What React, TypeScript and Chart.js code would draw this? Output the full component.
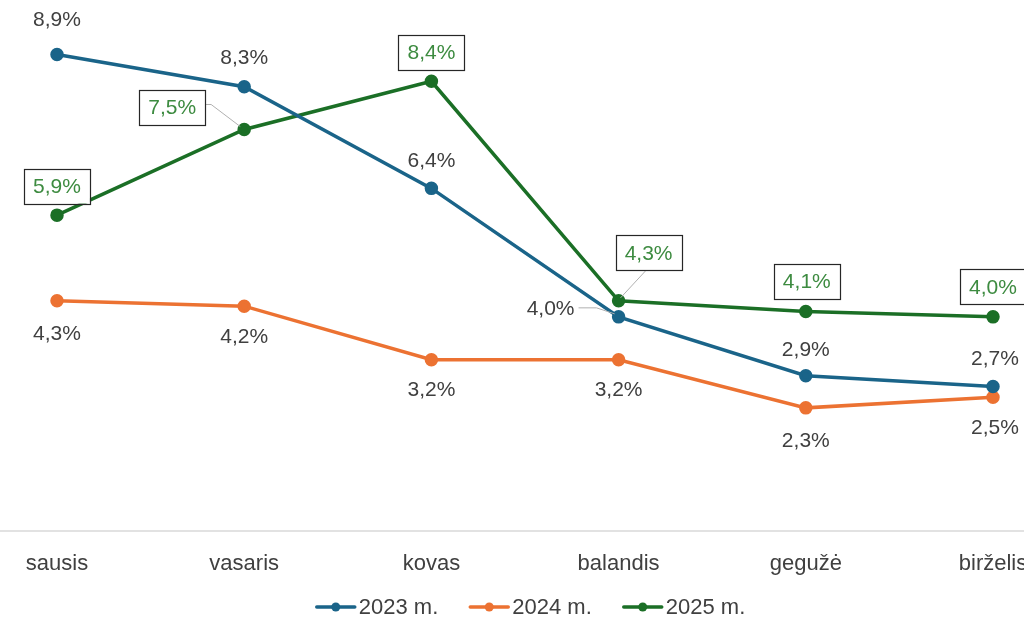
import React, { useEffect, useRef } from "react";
import { Chart, registerables } from "chart.js";

Chart.register(...registerables);

const months = ["sausis", "vasaris", "kovas", "balandis", "gegužė", "birželis"];
const values2023 = [8.9, 8.3, 6.4, 4.0, 2.9, 2.7];
const values2024 = [4.3, 4.2, 3.2, 3.2, 2.3, 2.5];
const values2025 = [5.9, 7.5, 8.4, 4.3, 4.1, 4.0];
const seriesNames = ["2023 m.", "2024 m.", "2025 m."];
const seriesColors = ["#1a6489", "#ec7232", "#1b6f26"];

// label placement (style only): offsets from point to label centre
const labelOffsets2023 = [[0, -35], [0, -29], [0, -28], [-68, -9], [0, -27], [2, -28]];
const labelOffsets2024 = [[0, 32], [0, 30], [0, 30], [0, 30], [0, 32], [2, 30]];
const labelOffsets2025 = [[0, -29], [-72, -22], [0, -29], [30, -48], [1, -30], [0, -30]];

const fmt = (v: number) => v.toFixed(1).replace(".", ",") + "%";

const LABEL_FONT = "21px 'Liberation Sans', Arial, sans-serif";
const AXIS_FONT = "22px 'Liberation Sans', Arial, sans-serif";

const labelPlugin = {
  id: "customLabels",
  beforeDatasetsDraw(chart: any) {
    const ctx = chart.ctx;
    const y0 = chart.scales.y.getPixelForValue(0);
    ctx.save();
    ctx.strokeStyle = "#d9d9d9";
    ctx.lineWidth = 1.5;
    ctx.beginPath();
    ctx.moveTo(0, y0);
    ctx.lineTo(chart.width, y0);
    ctx.stroke();
    ctx.restore();
  },
  afterDatasetsDraw(chart: any) {
    const ctx = chart.ctx;
    const offsets = [labelOffsets2023, labelOffsets2024, labelOffsets2025];
    ctx.save();
    ctx.font = LABEL_FONT;
    ctx.textAlign = "center";
    ctx.textBaseline = "middle";
    chart.data.datasets.forEach((ds: any, di: number) => {
      const meta = chart.getDatasetMeta(di);
      meta.data.forEach((pt: any, i: number) => {
        const [dx, dy] = offsets[di][i];
        const cx = pt.x + dx;
        const cy = pt.y + dy;
        const text = fmt(ds.data[i]);
        const w = ctx.measureText(text).width;
        if (di === 0 && i === 3) {
          ctx.strokeStyle = "#b0b0b0";
          ctx.lineWidth = 1;
          ctx.beginPath();
          ctx.moveTo(cx + w / 2 + 4, cy);
          ctx.lineTo(cx + w / 2 + 22, cy);
          ctx.lineTo(pt.x - 4, pt.y - 3);
          ctx.stroke();
        }
        if (di === 2 && i === 1) {
          ctx.strokeStyle = "#b0b0b0";
          ctx.lineWidth = 1;
          ctx.beginPath();
          ctx.moveTo(cx + w / 2 + 9, cy - 3);
          ctx.lineTo(cx + w / 2 + 15, cy - 3);
          ctx.lineTo(pt.x - 4, pt.y - 3);
          ctx.stroke();
        }
        if (di === 2 && i === 3) {
          ctx.strokeStyle = "#b0b0b0";
          ctx.lineWidth = 1;
          ctx.beginPath();
          ctx.moveTo(cx - 3, cy + 18);
          ctx.lineTo(pt.x + 2, pt.y - 3);
          ctx.stroke();
        }
        if (di === 2) {
          const bw = w + 18;
          const bh = 35;
          ctx.fillStyle = "#ffffff";
          ctx.fillRect(cx - bw / 2, cy - bh / 2, bw, bh);
          ctx.strokeStyle = "#262626";
          ctx.lineWidth = 1.2;
          ctx.strokeRect(Math.round(cx - bw / 2) + 0.5, Math.round(cy - bh / 2) + 0.5, Math.round(bw), bh);
          ctx.fillStyle = "#3d8b40";
        } else {
          ctx.fillStyle = "#404040";
        }
        ctx.fillText(text, cx, cy + 1);
      });
    });
    ctx.restore();
  },
  afterDraw(chart: any) {
    const ctx = chart.ctx;
    ctx.save();
    ctx.font = AXIS_FONT;
    ctx.textBaseline = "middle";
    ctx.textAlign = "left";
    const lineLen = 38;
    const gap = 4;
    const itemGap = 32;
    const widths = seriesNames.map((n) => lineLen + gap + ctx.measureText(n).width);
    const total = widths.reduce((a, b) => a + b, 0) + itemGap * (seriesNames.length - 1);
    let x = 531 - total / 2;
    const y = 607;
    seriesNames.forEach((n, i) => {
      ctx.strokeStyle = seriesColors[i];
      ctx.fillStyle = seriesColors[i];
      ctx.lineWidth = 3.5;
      ctx.lineCap = "round";
      ctx.beginPath();
      ctx.moveTo(x, y);
      ctx.lineTo(x + lineLen, y);
      ctx.stroke();
      ctx.beginPath();
      ctx.arc(x + lineLen / 2, y, 4.5, 0, Math.PI * 2);
      ctx.fill();
      ctx.fillStyle = "#404040";
      ctx.fillText(n, x + lineLen + gap, y + 1);
      x += widths[i] + itemGap;
    });
    ctx.restore();
  },
};

export default function App() {
  const ref = useRef<HTMLCanvasElement>(null);
  useEffect(() => {
    if (!ref.current) return;
    const mk = (label: string, data: number[], color: string) => ({
      label,
      data,
      borderColor: color,
      backgroundColor: color,
      borderWidth: 3.5,
      pointRadius: 5,
      pointBackgroundColor: color,
      pointBorderColor: color,
      tension: 0,
      clip: false as any,
    });
    const chart = new Chart(ref.current, {
      type: "line",
      data: {
        labels: months,
        datasets: [
          mk(seriesNames[0], values2023, seriesColors[0]),
          mk(seriesNames[1], values2024, seriesColors[1]),
          mk(seriesNames[2], values2025, seriesColors[2]),
        ],
      },
      options: {
        animation: false,
        responsive: false,
        layout: { autoPadding: false, padding: { left: 57, right: 67, top: 1, bottom: 28 } },
        plugins: { legend: { display: false }, tooltip: { enabled: false } },
        scales: {
          x: {
            offset: false,
            grid: { display: false },
            border: { display: false },
            afterFit: (scale: any) => {
              scale.height = 60;
            },
            ticks: {
              color: "#404040",
              font: { family: "'Liberation Sans', Arial, sans-serif", size: 22 },
              padding: 12,
              maxRotation: 0,
              autoSkip: false,
            },
          },
          y: { display: false, min: 0, max: 9.9 },
        },
      },
      plugins: [labelPlugin],
    });
    return () => chart.destroy();
  }, []);
  return (
    <div style={{ position: "fixed", left: 0, top: 0, width: 1024, height: 619, overflow: "hidden", background: "#fff" }}>
      <canvas ref={ref} width={1060} height={619} style={{ width: 1060, height: 619, display: "block" }} />
    </div>
  );
}
